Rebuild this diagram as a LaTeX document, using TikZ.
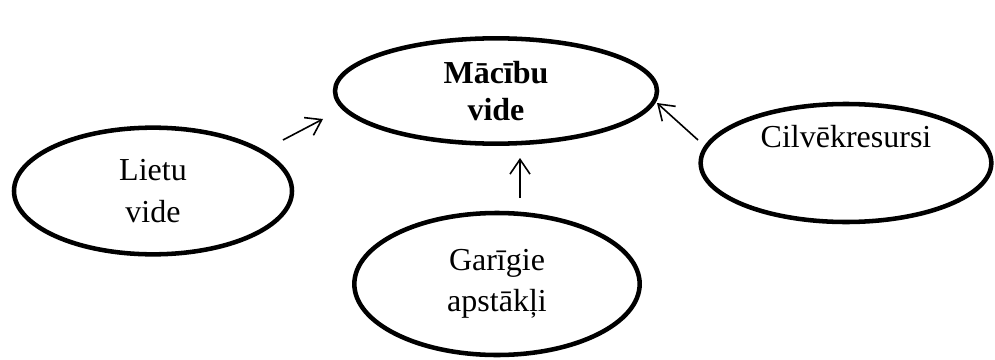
\documentclass[tikz,border=0pt]{standalone}
\usepackage{fontspec}
\setmainfont{Liberation Serif}
\usetikzlibrary{shapes.geometric,arrows.meta}

\tikzset{
    sphere/.style={draw, ellipse, line width=3.4pt, inner sep=0pt,
        align=center, font=\fontsize{24}{31}\selectfont},
    arr/.style={-{Straight Barb[length=11pt,width=15pt,line width=1.2pt]}, line width=1.2pt}
}

\begin{document}
\begin{tikzpicture}[x=0.75pt,y=-0.75pt]
\useasboundingbox (0,0) rectangle (995,360);

% Main set
\node [sphere,
    minimum width=241.5pt,
    minimum height=79pt,
    font=\fontsize{24}{27.5}\selectfont\bfseries] (macibu) at (496,91) {Mācību\\vide};

% Set L
\node [sphere,
    minimum width=208.5pt,
    minimum height=95pt] (lietu) at (153,191) {Lietu\\vide};

% Set G
\node [sphere,
    minimum width=214pt,
    minimum height=106.5pt] (garigie) at (497,284) {Garīgie\\apstākļi};

% Set C
\node [sphere,
    minimum width=218pt,
    minimum height=88.5pt] (cilveks) at (846,163) {Cilvēkresursi\\\strut};

% Arrow ends
\coordinate (lietu-out) at (283,140);
\coordinate (macibu-l) at (323,119);
\coordinate (garigie-out) at (520,198);
\coordinate (macibu-b) at (520,158);
\coordinate (cilveks-out) at (698,140);
\coordinate (macibu-r) at (657,103);

\draw [arr] (lietu-out) -- (macibu-l);
\draw [arr] (garigie-out) -- (macibu-b);
\draw [arr] (cilveks-out) -- (macibu-r);

\end{tikzpicture}
\end{document}
